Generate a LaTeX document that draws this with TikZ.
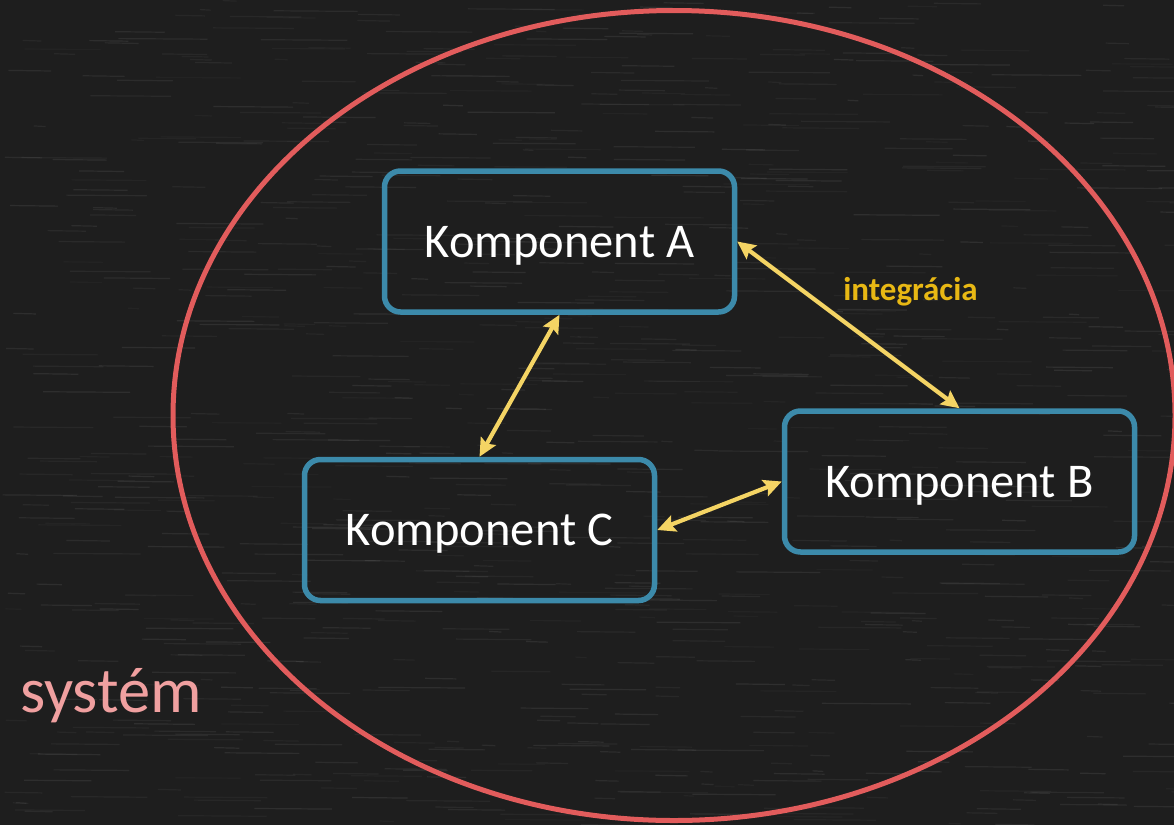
\documentclass[tikz,border=0pt]{standalone}
\usepackage{fontspec}
\setmainfont{Carlito}
\usetikzlibrary{arrows.meta}
\definecolor{bg}{RGB}{30,30,30}
\definecolor{chalk}{RGB}{210,210,210}
\definecolor{sysred}{RGB}{226,92,92}
\definecolor{boxblue}{RGB}{60,138,170}
\definecolor{arrowyel}{RGB}{244,212,100}
\definecolor{labelgold}{RGB}{232,184,20}
\definecolor{syspink}{RGB}{240,160,160}
\tikzset{
  compbox/.style={draw=boxblue, line width=5.5pt, rounded corners=16pt,
    minimum width=350pt, minimum height=141pt, text=white,
    font=\fontsize{48.5}{50}\selectfont, text height=31pt, text depth=0pt, inner sep=0pt},
  conn/.style={draw=arrowyel, line width=4.2pt,
    {Stealth[length=18pt,width=17pt,inset=3pt]}-{Stealth[length=18pt,width=17pt,inset=3pt]}},
}
\begin{document}
\begin{tikzpicture}[x=1pt,y=-1pt]
\fill[bg] (0,0) rectangle (1174,825);
\useasboundingbox (0,0) rectangle (1174,825);
% faint chalk texture
\pgfmathsetseed{7}
\foreach \i in {1,...,900}{
  \pgfmathsetmacro{\xx}{rnd*1174}
  \pgfmathsetmacro{\yy}{rnd*825}
  \pgfmathsetmacro{\ll}{10+rnd*80}
  \pgfmathsetmacro{\oo}{0.03+rnd*0.07}
  \draw[chalk, opacity=\oo, line width=1.2pt] (\xx,\yy) -- ++(\ll,0.6);
}
% system boundary
\draw[sysred, line width=5pt] (674,415.5) ellipse [x radius=501pt, y radius=405pt];
% components
\node[compbox] (A) at (559.5,241.5) {Komponent A};
\node[compbox] (B) at (959.5,481.5) {Komponent B};
\node[compbox] (C) at (479.5,530) {Komponent C};
% integrations
\draw[conn] (A.east) -- (B.north);
\draw[conn] (A.south) -- (C.north);
\draw[conn] (C.east) -- (B.west);
% labels
\node[anchor=base, inner sep=0pt, text=labelgold, font=\fontsize{33}{35}\selectfont\bfseries] (lab) at (910.5,300) {integrácia};
\node[anchor=base west, inner sep=0pt, text=syspink, font=\fontsize{64.5}{66}\selectfont] (sys) at (20,712) {systém};
\end{tikzpicture}
\end{document}
